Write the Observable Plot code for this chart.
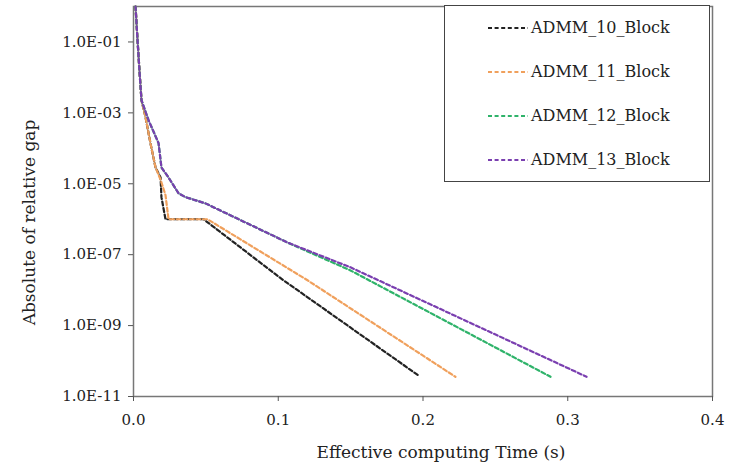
<!DOCTYPE html>
<html>
<head>
<meta charset="utf-8">
<script src="https://cdn.jsdelivr.net/npm/d3@7"></script>
<script src="https://cdn.jsdelivr.net/npm/@observablehq/plot@0.6"></script>
<style>
  html, body { margin: 0; padding: 0; background: #fff; }
  #wrap { position: relative; width: 731px; height: 469px; font-family: "DejaVu Serif", serif; }
  #wrap svg, #wrap svg text { font-family: "DejaVu Serif", serif !important; }
  #wrap g[aria-label="line"] path { stroke-dasharray: 4 2.6 !important; }
  #legend { position: absolute; left: 444px; top: 5px; width: 266px; height: 177px; border: 1.5px solid #444; box-sizing: border-box; background: #fff; }
  .entry { position: absolute; left: 42px; display: flex; align-items: center; font-size: 16px; color: #222; font-family: "DejaVu Serif", serif; }
  .entry svg { margin-right: 2px; }
</style>
</head>
<body>
<div id="wrap"></div>
<script>
// Series names and colours
const seriesNames = ["ADMM_10_Block", "ADMM_11_Block", "ADMM_12_Block", "ADMM_13_Block"];
const seriesColors = ["#222222", "#f0a05c", "#2fb36a", "#7a3fb0"];

// ADMM_10_Block
const time10 = [0.0014, 0.0028, 0.0041, 0.0055, 0.0083, 0.0117, 0.0152, 0.0187, 0.0193, 0.0221, 0.0484, 0.1036, 0.1969];
const gap10  = [1.0, 0.11, 1.6e-2, 2.3e-3, 7.6e-4, 1.4e-4, 2.9e-5, 1.5e-5, 4.2e-6, 1.0e-6, 1.0e-6, 1.9e-8, 3.9e-11];

// ADMM_11_Block
const time11 = [0.0014, 0.0028, 0.0041, 0.0055, 0.0083, 0.0117, 0.0152, 0.0187, 0.0221, 0.0242, 0.0511, 0.1202, 0.2224];
const gap11  = [1.0, 0.11, 1.6e-2, 2.3e-3, 7.6e-4, 1.4e-4, 2.9e-5, 1.3e-5, 4.8e-6, 1.0e-6, 1.0e-6, 1.9e-8, 3.6e-11];

// ADMM_12_Block
const time12 = [0.0014, 0.0028, 0.0041, 0.0055, 0.0104, 0.0173, 0.0193, 0.0242, 0.0311, 0.0359, 0.0497, 0.1064, 0.1499, 0.2881];
const gap12  = [1.0, 0.11, 1.6e-2, 2.3e-3, 6.2e-4, 1.4e-4, 2.9e-5, 1.5e-5, 5.4e-6, 4.2e-6, 2.8e-6, 2.2e-7, 3.6e-8, 3.6e-11];

// ADMM_13_Block
const time13 = [0.0014, 0.0028, 0.0041, 0.0055, 0.0104, 0.0173, 0.0193, 0.0242, 0.0311, 0.0359, 0.0497, 0.1064, 0.1499, 0.3130];
const gap13  = [1.0, 0.11, 1.6e-2, 2.3e-3, 6.2e-4, 1.4e-4, 2.9e-5, 1.5e-5, 5.4e-6, 4.2e-6, 2.8e-6, 2.2e-7, 4.4e-8, 3.6e-11];

// Ticks
const xTicks = [0, 0.1, 0.2, 0.3, 0.4];
const yTicks = [1e-1, 1e-3, 1e-5, 1e-7, 1e-9, 1e-11];

const allTimes = [time10, time11, time12, time13];
const allGaps = [gap10, gap11, gap12, gap13];
const rows = [];
seriesNames.forEach((name, i) => {
  allTimes[i].forEach((t, j) => rows.push({series: name, t, gap: allGaps[i][j]}));
});

const font = "DejaVu Serif";
const yFmt = d => "1.0E-" + String(Math.round(-Math.log10(d))).padStart(2, "0");

const chart = Plot.plot({
  width: 731,
  height: 469,
  marginLeft: 133,
  marginRight: 19,
  marginTop: 6,
  marginBottom: 73,
  style: {fontFamily: font, fontSize: "15px", color: "#222", background: "#fff"},
  x: {domain: [0, 0.4]},
  y: {type: "log", domain: [1e-11, 1]},
  color: {domain: seriesNames, range: seriesColors},
  marks: [
    Plot.frame({stroke: "#777", strokeWidth: 1.5}),
    Plot.axisX({ticks: xTicks, tickFormat: d => d.toFixed(1), tickSize: 5, tickPadding: 13, label: null, stroke: "#555", fontSize: 15}),
    Plot.axisY({ticks: yTicks, tickFormat: yFmt, tickSize: 5, tickPadding: 7, label: null, stroke: "#555", fontSize: 15}),
    Plot.line(rows, {x: "t", y: "gap", z: "series", stroke: "series", strokeWidth: 2.2, strokeDasharray: "4,2.6"}),
    Plot.text(["Effective computing Time (s)"], {frameAnchor: "bottom", dy: 61, dx: 18, fontSize: 17, fill: "#222", textAnchor: "middle"}),
    Plot.text(["Absolute of relative gap"], {frameAnchor: "left", dx: -104, dy: 21, rotate: -90, fontSize: 17, fill: "#222", textAnchor: "middle"})
  ]
});

const wrap = document.getElementById("wrap");
wrap.appendChild(chart);

const legend = document.createElement("div");
legend.id = "legend";
seriesNames.forEach((name, i) => {
  const e = document.createElement("div");
  e.className = "entry";
  e.style.top = (12 + i * 44) + "px";
  e.innerHTML = `<svg width="42" height="6"><line x1="1" y1="3" x2="41" y2="3" stroke="${seriesColors[i]}" stroke-width="2.2" stroke-dasharray="4,2.6"/></svg><span>${name}</span>`;
  legend.appendChild(e);
});
wrap.appendChild(legend);
</script>
</body>
</html>
